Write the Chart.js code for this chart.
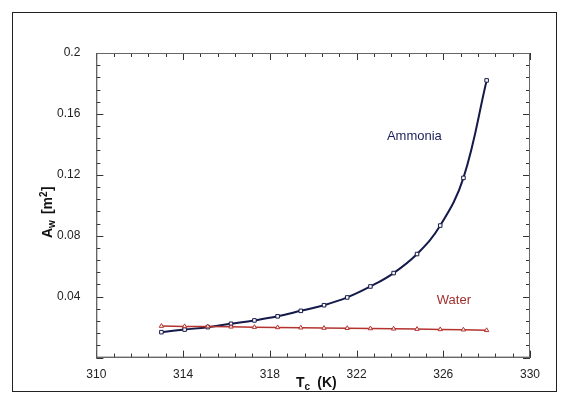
<!DOCTYPE html>
<html><head><meta charset="utf-8">
<script src="https://cdn.jsdelivr.net/npm/chart.js@4"></script>
<style>
html,body{margin:0;background:#fff;}
#box{position:absolute;left:12px;top:12px;width:545px;height:380px;border:1px solid #222;box-sizing:border-box;}
#wrap{position:absolute;left:0;top:0;width:570px;height:403px;}
</style></head><body>
<div id="box"></div>
<div id="wrap"><canvas id="c" width="570" height="403"></canvas></div>
<script>
const tempK   = [313, 314.07, 315.14, 316.21, 317.29, 318.36, 319.43, 320.5, 321.57, 322.64, 323.71, 324.79, 325.86, 326.93, 328];
const ammonia = [0.0167, 0.0184, 0.0200, 0.0222, 0.0244, 0.0271, 0.0307, 0.0344, 0.0395, 0.0467, 0.0555, 0.068, 0.0867, 0.118, 0.182];
const water   = [0.0207, 0.0205, 0.0204, 0.0202, 0.0200, 0.0198, 0.0196, 0.0194, 0.0193, 0.0191, 0.0189, 0.0187, 0.0185, 0.0183, 0.0179];
const xTicks  = [310, 314, 318, 322, 326, 330];
const yTicks  = [0.04, 0.08, 0.12, 0.16, 0.2];

const pts = (ys) => tempK.map((x,i)=>({x, y: ys[i]}));

// inward major/minor ticks on all four sides + annotations
const decor = {
  id: "decor",
  afterDraw(ch){
    const {ctx, chartArea: a, scales: {x, y}} = ch;
    ctx.save();
    ctx.strokeStyle = "#333"; ctx.lineWidth = 1;
    for (let i = 0; i <= 25; i++){
      const v = 310 + i * 0.8;
      const px = Math.round(x.getPixelForValue(v)) + 0.5;
      const L = (i % 5 === 0) ? 7 : 4;
      ctx.beginPath();
      ctx.moveTo(px, a.bottom); ctx.lineTo(px, a.bottom - L);
      ctx.moveTo(px, a.top); ctx.lineTo(px, a.top + L);
      ctx.stroke();
    }
    for (let i = 0; i <= 25; i++){
      const v = i * 0.008;
      const py = Math.round(y.getPixelForValue(v)) + 0.5;
      const L = (i % 5 === 0) ? 7 : 4;
      ctx.beginPath();
      ctx.moveTo(a.left, py); ctx.lineTo(a.left + L, py);
      ctx.moveTo(a.right, py); ctx.lineTo(a.right - L, py);
      ctx.stroke();
    }
    ctx.font = "13px Arial, 'Liberation Sans'";
    ctx.fillStyle = "#1a1f5c";
    ctx.fillText("Ammonia", x.getPixelForValue(323.4), y.getPixelForValue(0.143));
    ctx.fillStyle = "#a0302c";
    ctx.fillText("Water", x.getPixelForValue(325.7), y.getPixelForValue(0.0355));
    // axis titles
    ctx.fillStyle = "#111";
    ctx.font = "bold 14px Arial, 'Liberation Sans'";
    const cx = 296, by = 387;
    ctx.fillText("T", cx, by);
    let w = ctx.measureText("T").width;
    ctx.font = "bold 10px Arial, 'Liberation Sans'";
    ctx.fillText("c", cx + w, by + 3);
    ctx.font = "bold 14px Arial, 'Liberation Sans'";
    ctx.fillText("  (K)", cx + w + 5, by);
    ctx.translate(52, 238);
    ctx.rotate(-Math.PI/2);
    ctx.fillText("A", 0, 0);
    w = ctx.measureText("A").width;
    ctx.font = "bold 10px Arial, 'Liberation Sans'";
    ctx.fillText("w", w, 3);
    ctx.font = "bold 14px Arial, 'Liberation Sans'";
    ctx.fillText("  [m", w + 6, 0);
    const w2 = ctx.measureText("  [m").width;
    ctx.font = "bold 10px Arial, 'Liberation Sans'";
    ctx.fillText("2", w + 6 + w2, -5);
    ctx.font = "bold 14px Arial, 'Liberation Sans'";
    ctx.fillText("]", w + 6 + w2 + 6, 0);
    ctx.restore();
  }
};

new Chart(document.getElementById("c"), {
  type: "scatter",
  data: { datasets: [
    { label: "Water", data: pts(water), showLine: true, borderColor: "#b3332e", borderWidth: 1.5,
      pointStyle: "triangle", pointRadius: 2.5, pointBackgroundColor: "#fff", pointBorderColor: "#b3332e", pointBorderWidth: 1 },
    { label: "Ammonia", data: pts(ammonia), showLine: true, borderColor: "#141a4a", borderWidth: 2, tension: 0.4,
      pointStyle: "rect", pointRadius: 2.5, pointBackgroundColor: "#fff", pointBorderColor: "#141a4a", pointBorderWidth: 1 }
  ]},
  options: {
    responsive: false, animation: false,
    layout: { padding: { left: 49, right: 40, top: 53, bottom: 19 } },
    plugins: { legend: { display: false }, tooltip: { enabled: false } },
    scales: {
      x: { type: "linear", min: 310, max: 330,
        afterBuildTicks: s => { s.ticks = xTicks.map(v => ({value: v})); },
        grid: { display: false }, border: { color: "#666" },
        ticks: { color: "#222", font: { size: 12, family: "Arial, 'Liberation Sans'" }, padding: 2 } },
      y: { type: "linear", min: 0, max: 0.2,
        afterBuildTicks: s => { s.ticks = yTicks.map(v => ({value: v})); },
        grid: { display: false }, border: { color: "#666" },
        ticks: { color: "#222", font: { size: 12, family: "Arial, 'Liberation Sans'" }, padding: 8,
          callback: v => String(+v.toFixed(2)) } }
    }
  },
  plugins: [decor, {
    id: "frame",
    afterDraw(ch){
      const {ctx, chartArea: a} = ch;
      ctx.save(); ctx.strokeStyle = "#666"; ctx.lineWidth = 1;
      ctx.strokeRect(a.left + 0.5, a.top + 0.5, a.right - a.left - 1, a.bottom - a.top - 1);
      ctx.restore();
    }
  }]
});
</script>
</body></html>
